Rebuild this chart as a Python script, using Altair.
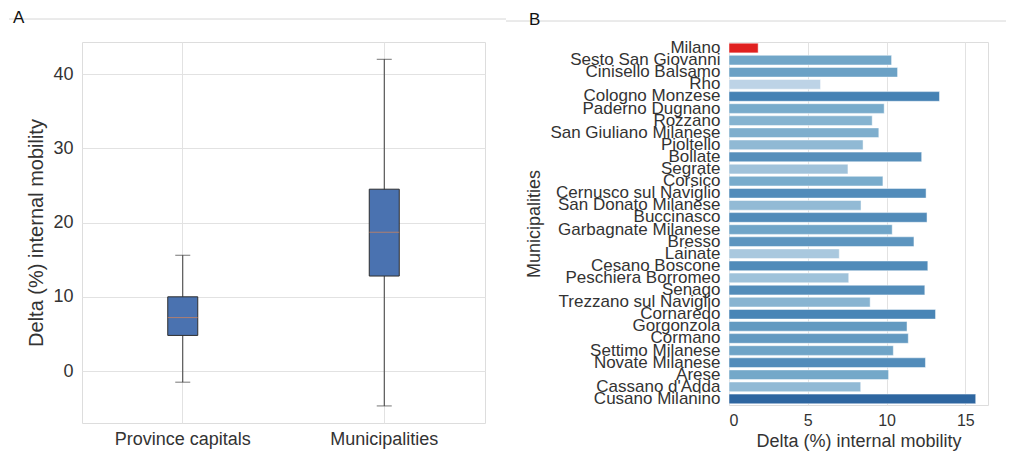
import altair as alt
import pandas as pd

FONT = "Liberation Sans"
TXT = "#333333"
GRID = "#e2e2e2"

# ---- Panel A: box summary values ----
groups = ["Province capitals", "Municipalities"]
whisker_low = [-1.5, -4.7]
q1 = [4.8, 12.8]
median = [7.2, 18.7]
q3 = [10.0, 24.5]
whisker_high = [15.6, 42.0]

# ---- Panel B: bars ----
municipalities = [
    "Milano", "Sesto San Giovanni", "Cinisello Balsamo", "Rho", "Cologno Monzese",
    "Paderno Dugnano", "Rozzano", "San Giuliano Milanese", "Pioltello", "Bollate",
    "Segrate", "Corsico", "Cernusco sul Naviglio", "San Donato Milanese", "Buccinasco",
    "Garbagnate Milanese", "Bresso", "Lainate", "Cesano Boscone", "Peschiera Borromeo",
    "Senago", "Trezzano sul Naviglio", "Cornaredo", "Gorgonzola", "Cormano",
    "Settimo Milanese", "Novate Milanese", "Arese", "Cassano d'Adda", "Cusano Milanino",
]
delta = [
    1.85, 10.32, 10.70, 5.81, 13.36,
    9.85, 9.09, 9.51, 8.51, 12.23,
    7.55, 9.77, 12.51, 8.38, 12.57,
    10.36, 11.74, 7.00, 12.62, 7.60,
    12.43, 8.96, 13.11, 11.30, 11.38,
    10.43, 12.47, 10.13, 8.36, 15.66,
]

box_df = pd.DataFrame({"group": groups, "low": whisker_low, "q1": q1,
                       "median": median, "q3": q3, "high": whisker_high})
bar_df = pd.DataFrame({"name": municipalities, "delta": delta})

# ---------- Panel A ----------
xA = alt.X("group:N", sort=groups,
           scale=alt.Scale(paddingInner=0, paddingOuter=0),
           axis=alt.Axis(title=None, labelAngle=0, labelFontSize=18, labelFont=FONT,
                         labelColor=TXT, labelPadding=7, tickSize=0, domain=False,
                         grid=True, gridColor=GRID, bandPosition=0.5))
yScaleA = alt.Scale(domain=[-7.0, 44.33], nice=False, zero=False)
yAxisA = alt.Axis(title="Delta (%) internal mobility", values=[0, 10, 20, 30, 40],
                  labelFontSize=18, labelFont=FONT, labelColor=TXT, labelPadding=9,
                  tickSize=0, domain=False, grid=True, gridColor=GRID,
                  titleFontSize=20, titleFont=FONT, titleColor=TXT, titleFontWeight="normal",
                  titlePadding=6)


def yA(field):
    return alt.Y(field, type="quantitative", scale=yScaleA, axis=yAxisA)


baseA = alt.Chart(box_df)
whisk = baseA.mark_rule(color="#3a3a3a", strokeWidth=1).encode(x=xA, y=yA("low"), y2="high:Q")
cap_lo = baseA.mark_tick(color="#3a3a3a", size=15, thickness=1).encode(x=xA, y=yA("low"))
cap_hi = baseA.mark_tick(color="#3a3a3a", size=15, thickness=1).encode(x=xA, y=yA("high"))
box = baseA.mark_bar(size=30, color="#4a72b0", stroke="#2e2e2e", strokeWidth=1).encode(
    x=xA, y=yA("q1"), y2="q3:Q")
med = baseA.mark_tick(size=30, thickness=1, color="#dd8452").encode(x=xA, y=yA("median"))
decoA = alt.Chart(pd.DataFrame({"d": [0]})).mark_rule(color="#d6d6d6", strokeWidth=1).encode(
    x=alt.value(-73), x2=alt.value(424), y=alt.value(-23))

panelA = alt.layer(whisk, box, med, cap_lo, cap_hi, decoA).properties(
    width=403, height=381,
    title=alt.TitleParams("A", anchor="start", frame="group", fontSize=17, font=FONT,
                          color="#111111", fontWeight="normal", dx=-69, offset=-8))

# ---------- Panel B ----------
colorScale = alt.Scale(domain=[5.8, 7.0, 9.85, 13.36, 15.66],
                       range=["#bdd3e6", "#a9c8de", "#78abcb", "#4682b4", "#2e66a0"])
bars = alt.Chart(bar_df).mark_bar(stroke="white", strokeWidth=0.8, strokeOpacity=0.6).encode(
    y=alt.Y("name:N", sort=municipalities,
            scale=alt.Scale(paddingInner=0.2, paddingOuter=0.1),
            axis=alt.Axis(title="Municipalities", labelFontSize=17, labelFont=FONT,
                          labelColor=TXT, labelLimit=400, labelPadding=9, tickSize=0,
                          domain=False, grid=False, titleFontSize=18, titleFont=FONT,
                          titleColor=TXT, titleFontWeight="normal", titlePadding=6)),
    x=alt.X("delta:Q", scale=alt.Scale(domain=[0, 16.44], nice=False),
            axis=alt.Axis(title="Delta (%) internal mobility", values=[0, 5, 10, 15],
                          labelFontSize=16, labelFont=FONT, labelColor=TXT, labelPadding=7,
                          tickSize=0, domain=False, grid=True, gridColor=GRID,
                          titleFontSize=18, titleFont=FONT, titleColor=TXT,
                          titleFontWeight="normal", titlePadding=4)),
    color=alt.condition("datum.name === 'Milano'", alt.value("#e0201f"),
                        alt.Color("delta:Q", scale=colorScale, legend=None)),
)
decoB = alt.Chart(pd.DataFrame({"d": [0]})).mark_rule(color="#d6d6d6", strokeWidth=1).encode(
    x=alt.value(-223), x2=alt.value(277), y=alt.value(-21))

panelB = alt.layer(bars, decoB).properties(
    width=259, height=363,
    title=alt.TitleParams("B", anchor="start", frame="group", fontSize=17, font=FONT,
                          color="#111111", fontWeight="normal", dx=-200, offset=-8))

chart = alt.hconcat(panelA, panelB, spacing=244, bounds="flush").properties(
    padding={"left": 0, "top": 0, "right": 0, "bottom": 0}
).configure_view(stroke="#dddddd", strokeWidth=1).configure(background="white")

chart.save("out.html", embed_options={"renderer": "svg", "actions": False})
